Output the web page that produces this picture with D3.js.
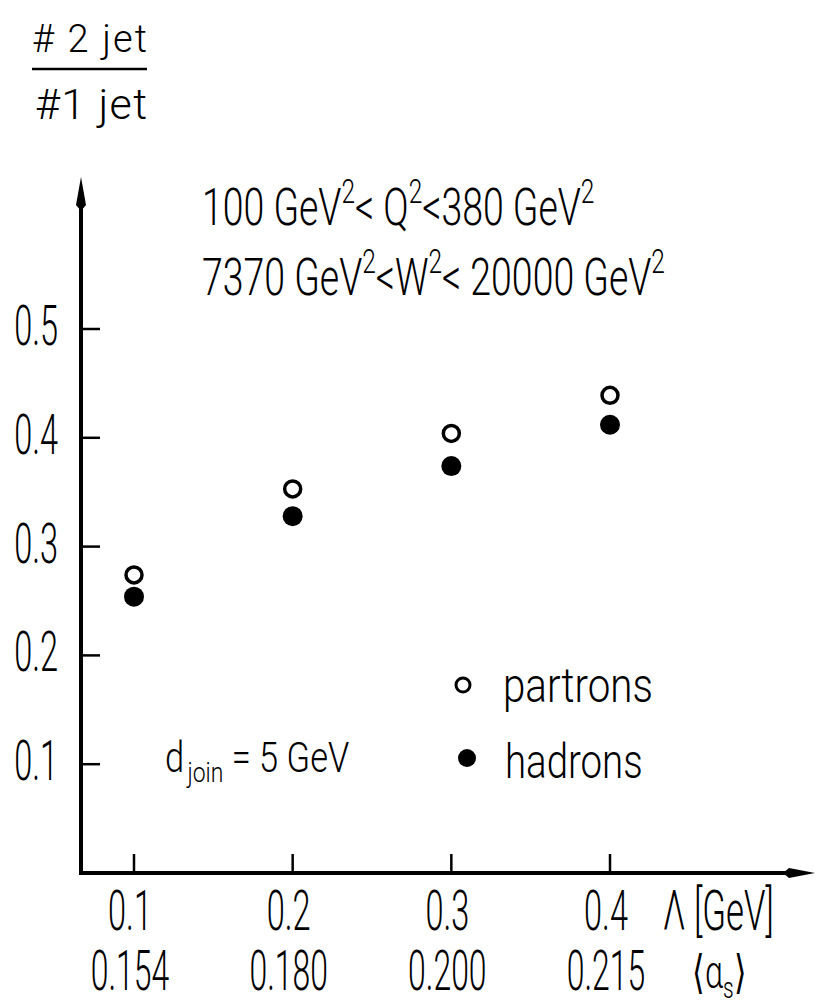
<!DOCTYPE html>
<html>
<head>
<meta charset="utf-8">
<script src="https://cdn.jsdelivr.net/npm/d3@7"></script>
<style>
  body { margin: 0; background: #fff; }
  text { font-family: Roboto, "DejaVu Sans", sans-serif; font-weight: 300; fill: #000; }
</style>
</head>
<body>
<div id="chart"></div>
<script>
// Λ values on the x axis and the matching <alpha_s>
const lambdaVals = [0.1, 0.2, 0.3, 0.4];
const lambdaLabels = ['0.1', '0.2', '0.3', '0.4'];
const alphaLabels = ['0.154', '0.180', '0.200', '0.215'];

// ratio #2jet / #1jet
const partons = [0.274, 0.353, 0.404, 0.439];
const hadrons = [0.254, 0.328, 0.374, 0.412];

const yTicks = [0.1, 0.2, 0.3, 0.4, 0.5];
const yTickLabels = ['0.1', '0.2', '0.3', '0.4', '0.5'];

const width = 816, height = 1007;
const axisX = 81, axisY = 873, axisTop = 177, axisRight = 815;

const svg = d3.select('#chart').append('svg')
    .attr('width', width)
    .attr('height', height);

const x = d3.scaleLinear().domain([0.1, 0.4]).range([134, 610]);
const y = d3.scaleLinear().domain([0, 0.5]).range([axisY, 329]);

// text helper: size, horizontal squeeze
function label(g, px, py, size, sx, anchor) {
    return g.append('text')
        .attr('transform', `translate(${px},${py}) scale(${sx},1)`)
        .attr('font-size', size)
        .attr('text-anchor', anchor || 'start');
}

// axes lines
svg.append('line')
    .attr('x1', axisX).attr('y1', axisY)
    .attr('x2', axisX).attr('y2', axisTop + 20)
    .attr('stroke', '#000').attr('stroke-width', 4);
svg.append('line')
    .attr('x1', axisX - 2).attr('y1', axisY)
    .attr('x2', axisRight - 20).attr('y2', axisY)
    .attr('stroke', '#000').attr('stroke-width', 4);

// arrow heads
svg.append('path')
    .attr('d', `M${axisX},${axisTop} L${axisX + 5},${axisTop + 28} L${axisX},${axisTop + 34} L${axisX - 5},${axisTop + 28} Z`)
    .attr('fill', '#000');
svg.append('path')
    .attr('d', `M${axisRight},${axisY} L${axisRight - 26},${axisY + 5} L${axisRight - 32},${axisY} L${axisRight - 26},${axisY - 5} Z`)
    .attr('fill', '#000');

// y ticks
svg.append('g').selectAll('line')
    .data(yTicks)
    .join('line')
    .attr('x1', axisX).attr('x2', axisX + 19)
    .attr('y1', d => y(d)).attr('y2', d => y(d))
    .attr('stroke', '#000').attr('stroke-width', 2.5);

const yLab = svg.append('g');
yTicks.forEach((d, i) => {
    label(yLab, 58, y(d) + 16, 56, 0.58, 'end').text(yTickLabels[i]);
});

// x ticks
svg.append('g').selectAll('line')
    .data(lambdaVals)
    .join('line')
    .attr('x1', d => x(d)).attr('x2', d => x(d))
    .attr('y1', axisY).attr('y2', axisY - 19)
    .attr('stroke', '#000').attr('stroke-width', 2.5);

const xLab = svg.append('g');
lambdaVals.forEach((d, i) => {
    label(xLab, x(d) - 4, 930, 56, 0.58, 'middle').text(lambdaLabels[i]);
    label(xLab, x(d) - 4, 990, 56, 0.57, 'middle').text(alphaLabels[i]);
});
label(xLab, 663, 930, 56, 0.62).text('Λ [GeV]');
const al = label(xLab, 692, 988, 46, 0.7);
al.append('tspan').text('⟨α');
al.append('tspan').attr('font-size', 30).attr('dy', 10).text('s');
al.append('tspan').attr('dy', -10).text('⟩');

// y axis title as a fraction
label(svg, 32, 52, 38, 1).attr('textLength', 115).attr('lengthAdjust', 'spacing').text('# 2 jet');
svg.append('line')
    .attr('x1', 32).attr('x2', 147)
    .attr('y1', 69).attr('y2', 69)
    .attr('stroke', '#000').attr('stroke-width', 2.5);
label(svg, 35, 119, 43, 1).attr('textLength', 112).attr('lengthAdjust', 'spacing').text('#1 jet');

// kinematic range
function withSup(g, px, py, parts) {
    const t = label(g, px, py, 52, 0.72);
    let raised = false;
    parts.forEach(p => {
        if (p.sup) {
            t.append('tspan').attr('font-size', 34).attr('dy', -22).text(p.sup);
            raised = true;
        } else {
            t.append('tspan').attr('dy', raised ? 22 : 0).text(p.t);
            raised = false;
        }
    });
    return t;
}
withSup(svg, 202, 225, [
    { t: '100 GeV' }, { sup: '2' }, { t: '< Q' }, { sup: '2' }, { t: '<380 GeV' }, { sup: '2' }
]);
withSup(svg, 202, 295, [
    { t: '7370 GeV' }, { sup: '2' }, { t: '<W' }, { sup: '2' }, { t: '< 20000 GeV' }, { sup: '2' }
]);

// d_join
const dj = label(svg, 165, 772, 42, 0.82);
dj.append('tspan').text('d');
dj.append('tspan').attr('font-size', 28).attr('dx', 4).attr('dy', 10).text('join');
dj.append('tspan').attr('dy', -10).text(' = 5 GeV');

// data points
svg.append('g').selectAll('circle')
    .data(lambdaVals)
    .join('circle')
    .attr('cx', d => x(d))
    .attr('cy', (d, i) => y(partons[i]))
    .attr('r', 8)
    .attr('fill', '#fff')
    .attr('stroke', '#000')
    .attr('stroke-width', 3.5);
svg.append('g').selectAll('circle')
    .data(lambdaVals)
    .join('circle')
    .attr('cx', d => x(d))
    .attr('cy', (d, i) => y(hadrons[i]))
    .attr('r', 10)
    .attr('fill', '#000');

// legend
const leg = svg.append('g');
leg.append('circle').attr('cx', 463).attr('cy', 685).attr('r', 7)
    .attr('fill', '#fff').attr('stroke', '#000').attr('stroke-width', 3);
label(leg, 503, 702, 48, 0.84).text('partrons');
leg.append('circle').attr('cx', 467).attr('cy', 758).attr('r', 9).attr('fill', '#000');
label(leg, 505, 778, 48, 0.8).text('hadrons');
</script>
</body>
</html>
